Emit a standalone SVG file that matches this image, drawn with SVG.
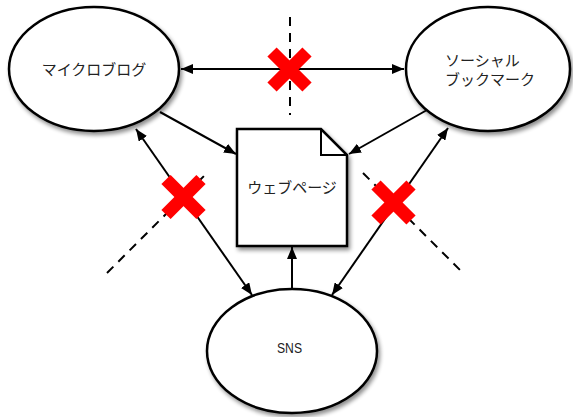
<svg xmlns="http://www.w3.org/2000/svg" width="573" height="417" viewBox="0 0 573 417">
  <defs>
    <filter id="shadow" x="-20%" y="-20%" width="140%" height="140%">
      <feGaussianBlur in="SourceAlpha" stdDeviation="2"/>
      <feOffset dx="2" dy="3" result="b"/>
      <feComponentTransfer><feFuncA type="linear" slope="0.45"/></feComponentTransfer>
      <feMerge><feMergeNode/><feMergeNode in="SourceGraphic"/></feMerge>
    </filter>
    <marker id="arrow" viewBox="0 0 12 10" refX="12" refY="5" markerWidth="12" markerHeight="10" markerUnits="userSpaceOnUse" orient="auto-start-reverse">
      <path d="M0,0 L12,5 L0,10 Z" fill="#000"/>
    </marker>
  </defs>
  <style>
    .node { fill: #fff; stroke: #000; stroke-width: 2.5; filter: url(#shadow); }
    .label { font-family: "Noto Sans CJK JP", "Noto Sans", sans-serif; font-size: 15px; fill: #222; }
    .edge { stroke: #000; stroke-width: 2; fill: none; }
    .dash { stroke: #000; stroke-width: 2; stroke-dasharray: 9 7; fill: none; }
    .cross { stroke: #ff0000; stroke-width: 13; stroke-linecap: butt; }
  </style>

  <rect width="573" height="417" fill="#fff"/>

  <!-- dashed separators -->
  <g id="separators">
    <line class="dash" x1="290" y1="17" x2="290" y2="115"/>
    <line class="dash" x1="107" y1="273" x2="208" y2="172"/>
    <line class="dash" x1="363" y1="173" x2="463" y2="273"/>
  </g>

  <!-- connectors -->
  <g id="connectors">
    <line class="edge" x1="181" y1="69" x2="404" y2="69" marker-start="url(#arrow)" marker-end="url(#arrow)"/>
    <line class="edge" x1="160" y1="112" x2="236" y2="154" marker-end="url(#arrow)"/>
    <line class="edge" x1="427" y1="110" x2="349" y2="154" marker-end="url(#arrow)"/>
    <line class="edge" x1="136" y1="129" x2="252" y2="295" marker-start="url(#arrow)" marker-end="url(#arrow)"/>
    <line class="edge" x1="448" y1="128" x2="332" y2="295" marker-start="url(#arrow)" marker-end="url(#arrow)"/>
    <line class="edge" x1="292" y1="290" x2="292" y2="247" marker-end="url(#arrow)"/>
  </g>

  <!-- blocked links -->
  <g id="blocks">
    <g transform="translate(289.5,69.5)">
      <line class="cross" x1="-17.5" y1="-17.5" x2="17.5" y2="17.5"/>
      <line class="cross" x1="-17.5" y1="17.5" x2="17.5" y2="-17.5"/>
    </g>
    <g transform="translate(183.5,197)">
      <line class="cross" x1="-17.5" y1="-17.5" x2="17.5" y2="17.5"/>
      <line class="cross" x1="-17.5" y1="17.5" x2="17.5" y2="-17.5"/>
    </g>
    <g transform="translate(393.5,202.5)">
      <line class="cross" x1="-17.5" y1="-17.5" x2="17.5" y2="17.5"/>
      <line class="cross" x1="-17.5" y1="17.5" x2="17.5" y2="-17.5"/>
    </g>
  </g>

  <g id="microblog">
    <ellipse class="node" cx="94" cy="69" rx="85" ry="62"/>
    <text class="label" x="94" y="75" text-anchor="middle">マイクロブログ</text>
  </g>

  <g id="social-bookmark">
    <ellipse class="node" cx="488" cy="69" rx="82" ry="62"/>
    <text class="label" x="445" y="66">ソーシャル</text>
    <text class="label" x="445" y="85">ブックマーク</text>
  </g>

  <g id="webpage">
    <path class="node" d="M237,129 H321 L347,155 V246 H237 Z"/>
    <path d="M321,129 V155 H347" fill="none" stroke="#000" stroke-width="2"/>
    <text class="label" x="292" y="193" text-anchor="middle">ウェブページ</text>
  </g>

  <g id="sns">
    <ellipse class="node" cx="292" cy="351" rx="85" ry="62"/>
    <text x="277" y="353" textLength="25" lengthAdjust="spacingAndGlyphs" font-family="'Liberation Sans', sans-serif" font-size="14" fill="#222">SNS</text>
  </g>
</svg>
